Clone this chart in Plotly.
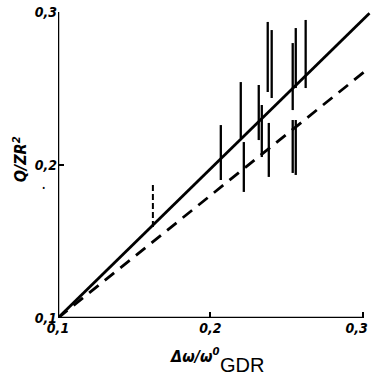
import plotly.graph_objects as go

# Fitted lines (x, y endpoints)
solid_x = [0.1, 0.3045]
solid_y = [0.1, 0.2992]
dashed_x = [0.1, 0.3035]
dashed_y = [0.1, 0.2628]

# Vertical error-bar segments: x position, lower y, upper y
bar_x = [0.2069, 0.2200, 0.2220, 0.2318, 0.2338, 0.2377, 0.2403, 0.2384,
         0.2541, 0.2561, 0.2541, 0.2561, 0.2626]
bar_lo = [0.1902, 0.2176, 0.1824, 0.2163, 0.2052, 0.2477, 0.2438, 0.1922,
          0.2359, 0.2503, 0.1948, 0.1935, 0.2503]
bar_hi = [0.2261, 0.2542, 0.2150, 0.2523, 0.2392, 0.2935, 0.2882, 0.2275,
          0.2797, 0.2895, 0.2294, 0.2294, 0.2948]

# Dashed vertical bar
dbar_x = [0.1623]
dbar_lo = [0.1595]
dbar_hi = [0.1889]

tick_vals = [0.1, 0.2, 0.3]
tick_text = ["0,1", "0,2", "0,3"]

FONT = "DejaVu Sans Condensed, Liberation Sans Narrow, sans-serif"

def segs(xs, los, his):
    X, Y = [], []
    for x, lo, hi in zip(xs, los, his):
        X += [x, x, None]
        Y += [lo, hi, None]
    return X, Y

fig = go.Figure()
bx, by = segs(bar_x, bar_lo, bar_hi)
fig.add_trace(go.Scatter(x=bx, y=by, mode="lines",
                         line=dict(color="black", width=2.3), hoverinfo="skip"))
dx, dy = segs(dbar_x, dbar_lo, dbar_hi)
fig.add_trace(go.Scatter(x=dx, y=dy, mode="lines",
                         line=dict(color="black", width=2, dash="6px,3px"), hoverinfo="skip"))
fig.add_trace(go.Scatter(x=solid_x, y=solid_y, mode="lines",
                         line=dict(color="black", width=2.8), hoverinfo="skip"))
fig.add_trace(go.Scatter(x=dashed_x, y=dashed_y, mode="lines",
                         line=dict(color="black", width=2.8, dash="12px,8px"), hoverinfo="skip"))

# Axis lines (drawn only up to 0.3)
fig.add_shape(type="line", xref="x", yref="y", x0=0.1, y0=0.1, x1=0.3, y1=0.1,
              line=dict(color="black", width=2.5))
fig.add_shape(type="line", xref="x", yref="y", x0=0.1, y0=0.1, x1=0.1, y1=0.3,
              line=dict(color="black", width=2.5))

y_labels = ["<b><i>%s</i></b>" % t for t in tick_text]
x_labels = ["<b><i>%s</i></b>" % t for t in tick_text]
x_labels[-1] = x_labels[-1] + "&nbsp;&nbsp;&nbsp;"

fig.update_xaxes(range=[0.1, 0.3055], showgrid=False, zeroline=False, showline=False,
                 automargin=False, ticklabeloverflow="allow",
                 tickvals=tick_vals, ticktext=x_labels,
                 ticks="inside", ticklen=6, tickwidth=1.5, tickcolor="black",
                 tickfont=dict(family=FONT, size=14, color="black"))
fig.update_yaxes(range=[0.1, 0.3], showgrid=False, zeroline=False, showline=False,
                 automargin=False, ticklabeloverflow="allow",
                 tickvals=tick_vals, ticktext=y_labels,
                 ticks="inside", ticklen=6, tickwidth=1.5, tickcolor="black",
                 tickfont=dict(family=FONT, size=14, color="black"))

# x-axis title: "Δω/ω⁰" plus large "GDR" subscript
fig.add_annotation(xref="paper", yref="paper", x=0.521, y=-0.162, xanchor="right",
                   yanchor="bottom", showarrow=False,
                   text="<b><i>Δω/ω<sup>0</sup></i></b>",
                   font=dict(family=FONT, size=16, color="black"))
fig.add_annotation(xref="paper", yref="paper", x=0.515, y=-0.116, xanchor="left",
                   yanchor="top", showarrow=False, borderpad=0,
                   text="GDR",
                   font=dict(family="Liberation Sans, Arial, sans-serif", size=20, color="black"))
fig.add_annotation(xref="paper", yref="paper", x=-0.12, y=0.52, xanchor="center",
                   showarrow=False, textangle=-90,
                   text="<b><i>Q/ZR<sup>2</sup></i></b>",
                   font=dict(family=FONT, size=16, color="black"))
fig.add_annotation(xref="paper", yref="paper", x=-0.058, y=0.425, showarrow=False,
                   text="•", font=dict(size=9, color="black"))

fig.update_layout(width=371, height=377, margin=dict(l=58, r=0, t=12, b=59),
                  plot_bgcolor="white", paper_bgcolor="white", showlegend=False)

fig.write_html("out.html", config={"displayModeBar": False},
               post_script="document.body.style.margin='0';document.body.style.overflow='hidden';")
